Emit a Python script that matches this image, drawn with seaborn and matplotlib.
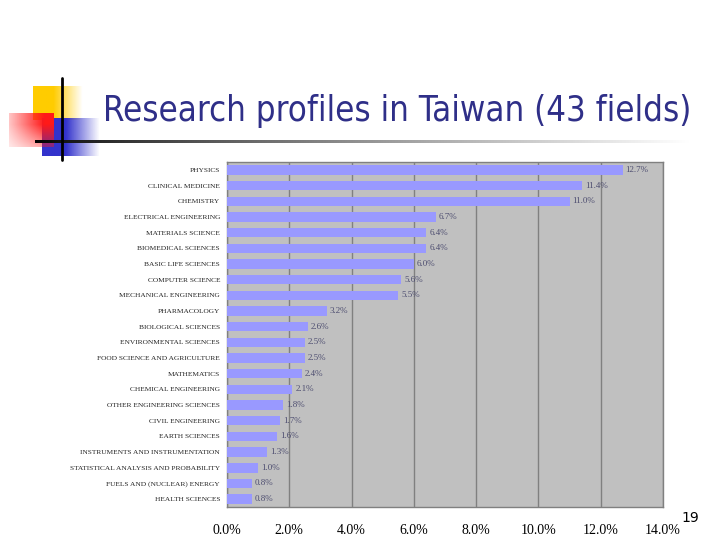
import matplotlib
matplotlib.use("Agg")
import matplotlib.pyplot as plt
import numpy as np
import pandas as pd
import seaborn as sns

fields = [
    "PHYSICS", "CLINICAL MEDICINE", "CHEMISTRY", "ELECTRICAL ENGINEERING",
    "MATERIALS SCIENCE", "BIOMEDICAL SCIENCES", "BASIC LIFE SCIENCES",
    "COMPUTER SCIENCE", "MECHANICAL ENGINEERING", "PHARMACOLOGY",
    "BIOLOGICAL SCIENCES", "ENVIRONMENTAL SCIENCES", "FOOD SCIENCE AND AGRICULTURE",
    "MATHEMATICS", "CHEMICAL ENGINEERING", "OTHER ENGINEERING SCIENCES",
    "CIVIL ENGINEERING", "EARTH SCIENCES", "INSTRUMENTS AND INSTRUMENTATION",
    "STATISTICAL ANALYSIS AND PROBABILITY", "FUELS AND (NUCLEAR) ENERGY",
    "HEALTH SCIENCES",
]
shares = [12.7, 11.4, 11.0, 6.7, 6.4, 6.4, 6.0, 5.6, 5.5, 3.2, 2.6,
          2.5, 2.5, 2.4, 2.1, 1.8, 1.7, 1.6, 1.3, 1.0, 0.8, 0.8]
x_ticks = [0, 2, 4, 6, 8, 10, 12, 14]

df = pd.DataFrame({"field": fields, "share": shares})

sns.set_style("white")
plt.rcParams["font.family"] = ["DejaVu Sans"]

fig = plt.figure(figsize=(7.2, 5.4), dpi=100)
W, H = 720.0, 540.0

# slide decoration (squares, lines)
def grad_box(rect, rgb, kind):
    a = fig.add_axes(rect)
    a.set_axis_off()
    n = 64
    t = np.linspace(0, 1, n)
    img = np.ones((n, n, 4))
    img[..., :3] = rgb
    if kind == "right":
        alpha = np.tile(np.clip(1.7 - 1.7 * t, 0, 1), (n, 1))
    elif kind == "red":
        alpha = np.outer(np.clip(1.3 - 0.9 * t, 0, 1), np.clip(0.25 + 0.95 * t, 0, 1))
    else:
        alpha = np.ones((n, n))
    img[..., 3] = alpha
    a.imshow(img, aspect="auto", interpolation="bilinear")

grad_box([33 / W, 1 - 120 / H, 50 / W, 34 / H], (1.0, 0.8, 0.0), "right")
grad_box([42 / W, 1 - 156 / H, 58 / W, 38 / H], (0.2, 0.2, 0.8), "right")
grad_box([9 / W, 1 - 147 / H, 45 / W, 34 / H], (1.0, 0.1, 0.1), "red")

# horizontal fading line
la = fig.add_axes([35 / W, 1 - 143 / H, 655 / W, 3 / H])
la.set_axis_off()
g = np.linspace(0, 1, 256) ** 0.8
la.imshow(np.dstack([g, g, g]), aspect="auto")
fig.add_artist(plt.Line2D([61.5 / W, 61.5 / W], [1 - 78 / H, 1 - 160 / H], color="black", lw=2))

fig.text(103 / W, 1 - 121 / H, "Research profiles in Taiwan (43 fields)",
         fontsize=24.9, color="#2f2f88", ha="left", va="baseline",
         family=["DejaVu Sans"], fontstretch="condensed")

ax = fig.add_axes([227 / W, 1 - 507 / H, 436 / W, 345 / H])
sns.barplot(data=df, x="share", y="field", orient="h", color="#9999FF",
            saturation=1, width=0.6, linewidth=0, edgecolor="none", ax=ax, zorder=3)
ax.set_facecolor("#C0C0C0")
ax.set_xlim(0, 14)
ax.set_xticks(x_ticks)
ax.set_xticklabels([f"{v:.1f}%" for v in x_ticks], family="Liberation Serif",
                   fontsize=10, color="black")
ax.grid(axis="x", color="#808080", lw=1, zorder=1)
ax.set_axisbelow(True)
ax.tick_params(axis="x", length=0, pad=12)
ax.tick_params(axis="y", length=0, pad=5)
for lbl in ax.get_yticklabels():
    lbl.set_family("Liberation Serif")
    lbl.set_fontsize(5.3)
    lbl.set_color("#222222")
ax.set_ylim(len(fields) - 0.5, -0.5)
ax.set_yticks(np.arange(len(fields) + 1) - 0.5, minor=True)
ax.tick_params(axis="y", which="minor", length=3, direction="in", color="#808080")
ax.set_xlabel("")
ax.set_ylabel("")
for s in ax.spines.values():
    s.set_color("#808080")
    s.set_linewidth(1)

for i, v in enumerate(shares):
    ax.text(v + 0.1, i, f"{v:.1f}%", va="center", ha="left", fontsize=6.5,
            family="Liberation Serif", color="#4d4d70", zorder=4)

fig.text(681 / W, 1 - 522 / H, "19", fontsize=10, color="black")

fig.savefig("out.png", dpi=100)
